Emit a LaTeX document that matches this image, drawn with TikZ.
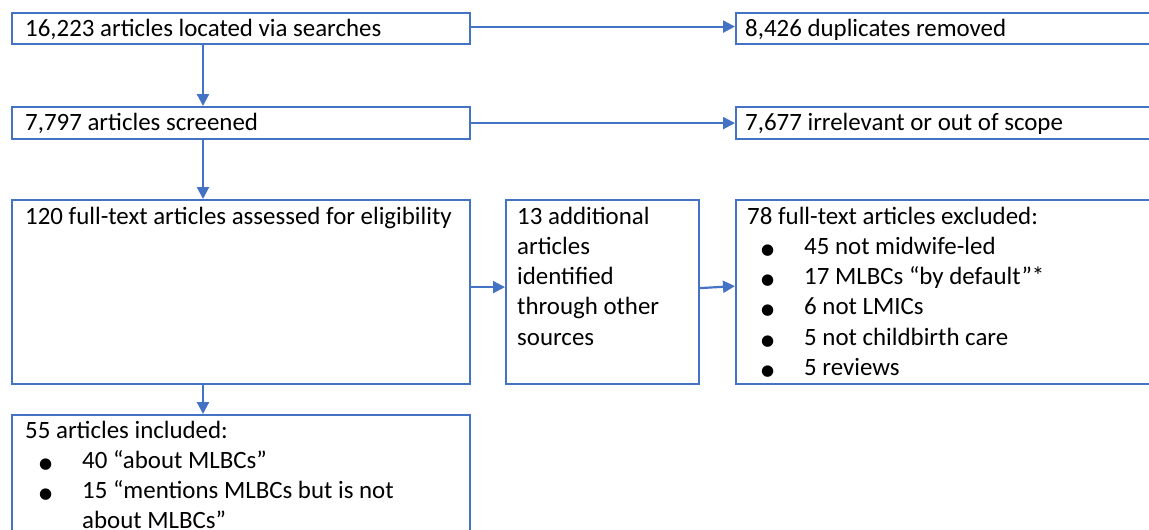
\documentclass[tikz,border=0pt]{standalone}
\usepackage{fontspec}
\setmainfont{Carlito}
\newfontfamily\dejavu{DejaVu Sans}
\usetikzlibrary{arrows.meta}
\definecolor{wblue}{HTML}{4472C4}
\newcommand\bul{{\dejavu\fontsize{15}{15}\selectfont ●}}
\newcommand\itm[1]{\hspace*{14pt}\makebox[43pt][l]{\bul}#1}
\begin{document}
\begin{tikzpicture}[x=1pt,y=-1pt,
  box/.style={draw=wblue, line width=2.2pt, rectangle, inner sep=0pt, anchor=north west},
  arr/.style={draw=wblue, line width=2.2pt, -{Triangle[length=12pt,width=12pt]}},
  txt/.style={anchor=base west, inner sep=0pt, font=\fontsize{24.9}{30.3}\selectfont, text=black}]
\useasboundingbox (0,0) rectangle (1149,530);
\clip (0,0) rectangle (1149,530);
% boxes
\node[box, minimum width=458pt, minimum height=31pt] (b1) at (11,12) {};
\node[box, minimum width=440pt, minimum height=31pt] (b2) at (735,12) {};
\node[box, minimum width=458pt, minimum height=32pt] (b3) at (11,106) {};
\node[box, minimum width=440pt, minimum height=32pt] (b4) at (735,106) {};
\node[box, minimum width=458pt, minimum height=184pt] (b5) at (11,199) {};
\node[box, minimum width=193pt, minimum height=184pt] (b6) at (505,199) {};
\node[box, minimum width=440pt, minimum height=184pt] (b7) at (735,199) {};
\node[box, minimum width=458pt, minimum height=150pt] (b8) at (11,414) {};
% texts
\node[txt] (t1) at (25,36) {16,223 articles located via searches};
\node[txt] (t2) at (745,36) {8,426 duplicates removed};
\node[txt] (t3) at (25,130) {7,797 articles screened};
\node[txt] (t4) at (745,130) {7,677 irrelevant or out of scope};
\node[txt] (t5) at (25,224) {120 full-text articles assessed for eligibility};
\node[txt] (t6) at (517,224) {\parbox[t]{175pt}{\raggedright 13 additional\\articles\\identified\\through other\\sources}};
\node[txt] (t7) at (747,224) {\parbox[t]{395pt}{\raggedright 78 full-text articles excluded:\\
  \itm{45 not midwife-led}\\
  \itm{17 MLBCs “by default”*}\\
  \itm{6 not LMICs}\\
  \itm{5 not childbirth care}\\
  \itm{5 reviews}}};
\node[txt] (t8) at (25,438) {\parbox[t]{440pt}{\raggedright 55 articles included:\\
  \itm{40 “about MLBCs”}\\
  \itm{15 “mentions MLBCs but is not}\\
  \hspace*{57pt}about MLBCs”}};
% arrows
\draw[arr] ([yshift=2pt]b1.east) -- ([yshift=2pt]b2.west);
\draw[arr] ([xshift=192pt]b1.south west) -- ([xshift=192pt]b3.north west);
\draw[arr] (b3.east) -- (b4.west);
\draw[arr] ([xshift=192pt]b3.south west) -- ([xshift=192pt]b5.north west);
\draw[arr] ([yshift=5pt]b5.east) -- ([yshift=5pt]b6.west);
\draw[arr] ([yshift=4pt]b6.east) -- ([yshift=6pt]b7.west);
\draw[arr] ([xshift=192pt]b5.south west) -- ([xshift=192pt]b8.north west);
\end{tikzpicture}
\end{document}
